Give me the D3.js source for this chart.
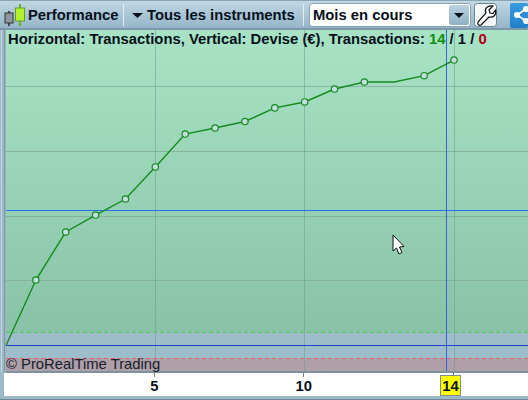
<!DOCTYPE html>
<html><head><meta charset="utf-8">
<script src="https://cdn.jsdelivr.net/npm/d3@7"></script>
<style>html,body{margin:0;padding:0;background:#9db9c8;overflow:hidden}svg{display:block}text{font-family:"Liberation Sans",Arial,sans-serif}</style>
</head><body><svg id="c" width="528" height="400"></svg>
<script>
const tradeIndex=[0,1,2,3,4,5,6,7,8,9,10,11,12,13,14,15];
const equity=[0,506,877,1008,1132,1380,1634,1681,1731,1836,1882,1982,2036,2036,2085,2206];
const showMarker=[0,1,1,1,1,1,1,1,1,1,1,1,1,0,1,1];
const gridValues=[500,1000,1500,2000];
const tickPositions=[5,10];
const tickLabels=["5","10"];
const currentPosition=15, currentLabel="14";
const averageValue=1040, upperBand=104, lowerBand=-100, crosshairPosition=14.76;
const title="Horizontal: Transactions, Vertical: Devise (€), Transactions: ";
const counts=["14"," / 1 / ","0"];

const svg=d3.select("#c");
const defs=svg.append("defs");
function grad(id,stops){const g=defs.append("linearGradient").attr("id",id).attr("x1",0).attr("y1",0).attr("x2",0).attr("y2",1);
 stops.forEach(s=>g.append("stop").attr("offset",s[0]).attr("stop-color",s[1]));return `url(#${id})`;}
const barG=grad("bar",[[0,"#c3d8e4"],[.5,"#aac6d6"],[1,"#93b4c6"]]);
const plotG=grad("plot",[[0,"#a9e3c6"],[1,"#89c3a7"]]);
const comboBtn=grad("btn",[[0,"#bcd3e0"],[1,"#8fb1c5"]]);
const shareG=grad("sh",[[0,"#3a9be0"],[1,"#1f7fc8"]]);

const L=5,R=528,T=32,B=371;
const x=d3.scaleLinear().domain([0,15]).range([6,454]);
const y=d3.scaleLinear().domain([0,2000]).range([345.5,86.7]);
const crisp=s=>s.attr("shape-rendering","crispEdges");

// chrome
svg.append("rect").attr("width",528).attr("height",400).attr("fill","#9db9c8");
svg.append("rect").attr("width",528).attr("height",29).attr("fill",barG);
svg.append("rect").attr("y",0).attr("width",528).attr("height",1).attr("fill","#8aa5b5");
svg.append("rect").attr("y",28).attr("width",528).attr("height",2).attr("fill","#7d98a8");
svg.append("rect").attr("x",4).attr("y",30).attr("width",1).attr("height",342).attr("fill","#7f93a0");
svg.append("rect").attr("x",1).attr("y",30).attr("width",1).attr("height",342).attr("fill","#c7d8e2");

// plot zones
svg.append("rect").attr("x",L+1).attr("y",T-2).attr("width",R-L).attr("height",y(upperBand)-T+2).attr("fill",plotG);
svg.append("rect").attr("x",L+1).attr("y",y(upperBand)).attr("width",R-L).attr("height",y(lowerBand)-y(upperBand)).attr("fill","#9dbdca");
svg.append("rect").attr("x",L+1).attr("y",y(lowerBand)).attr("width",R-L).attr("height",B-y(lowerBand)).attr("fill","#ae9fa9");

// grid
crisp(svg.append("g")).selectAll("line").data(gridValues).join("line")
 .attr("x1",L+1).attr("x2",R).attr("y1",d=>y(d)).attr("y2",d=>y(d)).attr("stroke","#7fa895").attr("stroke-opacity",.75);
crisp(svg.append("g")).selectAll("line").data([...tickPositions,currentPosition]).join("line")
 .attr("x1",d=>x(d)).attr("x2",d=>x(d)).attr("y1",T-2).attr("y2",B).attr("stroke","#6f9a8a").attr("stroke-opacity",.55);

// reference lines
const hline=(v,c,dash)=>crisp(svg.append("line")).attr("x1",L+1).attr("x2",R).attr("y1",y(v)).attr("y2",y(v)).attr("stroke",c).attr("stroke-dasharray",dash||null);
hline(averageValue,"#2a6fe8");
hline(0,"#2440c8");
hline(upperBand,"#46d046","4 3");
hline(lowerBand,"#e86060","4 3");
crisp(svg.append("line")).attr("x1",x(crosshairPosition)).attr("x2",x(crosshairPosition)).attr("y1",T-2).attr("y2",B).attr("stroke","#3a62d8");
svg.append("rect").attr("x",L+1).attr("y",B).attr("width",R-L).attr("height",2).attr("fill","#7f939f");

// series
const line=d3.line().x((d,i)=>x(tradeIndex[i])).y(d=>y(d));
svg.append("path").attr("d",line(equity)).attr("fill","none").attr("stroke","#148a20").attr("stroke-width",1.4);
svg.append("g").selectAll("circle").data(equity.map((v,i)=>({v,i})).filter(d=>showMarker[d.i])).join("circle")
 .attr("cx",d=>x(tradeIndex[d.i])).attr("cy",d=>y(d.v)).attr("r",3.2).attr("fill","#c4dfe0").attr("stroke","#148a20").attr("stroke-width",1.2);

// title
const t=svg.append("text").attr("x",8).attr("y",44).attr("font-size",14.8).attr("font-weight",700).attr("fill","#06101a");
t.append("tspan").text(title);
t.append("tspan").attr("fill","#0f8f12").text(counts[0]);
t.append("tspan").style("white-space","pre").text(counts[1]);
t.append("tspan").attr("fill","#b00010").text(counts[2]);
svg.append("text").attr("x",6).attr("y",369).attr("font-size",14.8).attr("fill","#16202c").text("© ProRealTime Trading");

// x axis strip
svg.append("rect").attr("x",4).attr("y",373).attr("width",524).attr("height",23).attr("fill","#ffffff");
svg.append("rect").attr("y",396).attr("width",528).attr("height",4).attr("fill","#9db9c8");
svg.append("rect").attr("y",399).attr("width",528).attr("height",1).attr("fill","#6f8796");
crisp(svg.append("g")).selectAll("line").data([...tickPositions,currentPosition]).join("line")
 .attr("x1",d=>x(d)-1).attr("x2",d=>x(d)-1).attr("y1",372).attr("y2",377).attr("stroke","#6f808a");
svg.append("g").selectAll("text").data(tickPositions).join("text").attr("x",d=>x(d)-1).attr("y",391).attr("text-anchor","middle")
 .attr("font-size",14.8).attr("font-weight",700).attr("fill","#06101a").text((d,i)=>tickLabels[i]);
svg.append("rect").attr("x",x(currentPosition)-13.5).attr("y",375.5).attr("width",20).attr("height",20).attr("fill","#ffff00").attr("stroke","#7f8f92").attr("stroke-width",1);
svg.append("text").attr("x",x(currentPosition)-3.5).attr("y",391).attr("text-anchor","middle").attr("font-size",14.8).attr("font-weight",700).attr("fill","#06101a").text(currentLabel);

// toolbar: candles
svg.append("path").attr("d","M9 11V26").attr("stroke","#445").attr("stroke-width",2);
svg.append("rect").attr("x",5).attr("y",13).attr("width",8).attr("height",10).attr("fill","#8d979d").attr("stroke","#333");
svg.append("path").attr("d","M20 4V26").attr("stroke","#66b52a").attr("stroke-width",2);
svg.append("rect").attr("x",15.5).attr("y",8).attr("width",9).attr("height",13).attr("fill","#b4f02c").attr("stroke","#5aa028");
const tb=(s,xp)=>svg.append("text").attr("x",xp).attr("y",20).attr("font-size",14.8).attr("font-weight",700).attr("fill","#06101a").text(s);
tb("Performance",28); tb("Tous les instruments",147);
svg.append("path").attr("d","M132 13h11l-5.5 5z").attr("fill","#06101a");
[123.5,303.5].forEach(p=>svg.append("line").attr("x1",p).attr("x2",p).attr("y1",4).attr("y2",26).attr("stroke","#e4eef3").attr("stroke-width",1));
// combo
svg.append("rect").attr("x",309.5).attr("y",3.5).attr("width",161).attr("height",23).attr("rx",3).attr("fill","#fff").attr("stroke","#88a2b2");
svg.append("rect").attr("x",449).attr("y",5).attr("width",20).attr("height",20).attr("rx",2).attr("fill",comboBtn);
svg.append("path").attr("d","M454 13h10l-5 5z").attr("fill","#06101a");
tb("Mois en cours",313);
// wrench button
svg.append("rect").attr("x",474.5).attr("y",3.5).attr("width",22).attr("height",23).attr("rx",3).attr("fill","#f4f8fa").attr("stroke","#6d8494");
svg.append("path").attr("d","M478 22L486 13C484 9 487 5 493 6L489 10L490 13L493 13.5L495.5 10C497 15 493 18 489 17L481 25C479 26 477 24 478 22Z").attr("fill","#fff").attr("stroke","#111").attr("stroke-width",1.2);
// share button
svg.append("rect").attr("x",510).attr("y",3).attr("width",18).attr("height",25).attr("rx",2).attr("fill",shareG);
svg.append("path").attr("d","M526 9L517 15L526 21").attr("fill","none").attr("stroke","#fff").attr("stroke-width",1.6);
[[526,9],[517,15],[526,21]].forEach(c=>svg.append("circle").attr("cx",c[0]).attr("cy",c[1]).attr("r",3).attr("fill","#fff"));
// pointer
svg.append("path").attr("d","M393 235V251L396.5 248L399 254L402 252.5L399.5 247L404 246.5Z").attr("fill","#fff").attr("stroke","#111").attr("stroke-width",1);
</script></body></html>
